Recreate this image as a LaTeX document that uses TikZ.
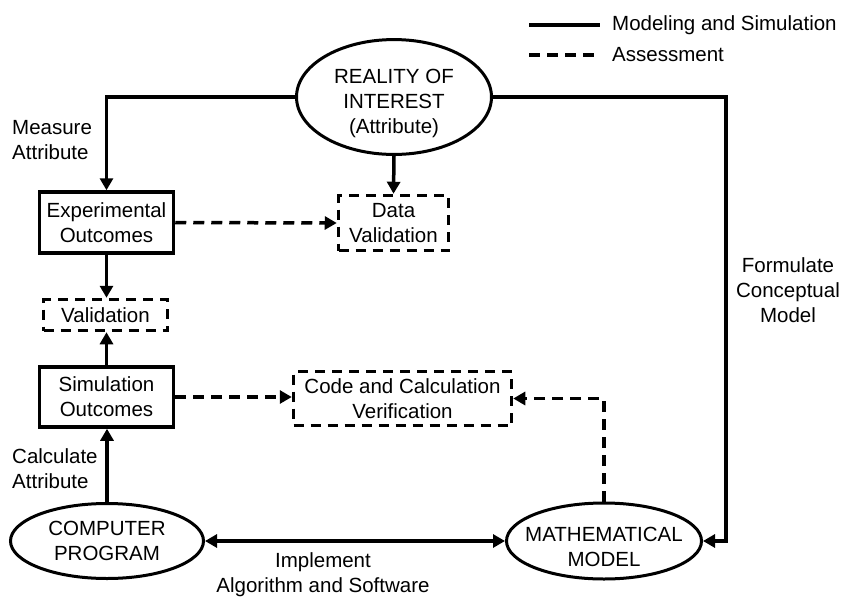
\documentclass[tikz,border=0pt]{standalone}
\usepackage{fontspec}
\setmainfont{Liberation Sans}
\usepackage{tikz}
\usetikzlibrary{shapes, arrows.meta}
\tikzstyle{oval} = [ellipse, draw=black, line width=3pt, inner xsep=-12pt, inner ysep=0pt, text centered, align=center]
\tikzstyle{outcome} = [rectangle, draw=black, line width=3.5pt, inner sep=0pt, text centered, align=center]
\tikzstyle{check} = [rectangle, draw=black, line width=3.5pt, dash pattern=on 10pt off 7pt, inner sep=0pt, text centered, align=center]
\tikzstyle{edge} = [line width=3.5pt, >={Triangle[length=12pt, width=13pt]}]
\tikzstyle{assess} = [edge, dash pattern=on 11pt off 7pt]
\tikzstyle{note} = [inner sep=0pt]

\begin{document}
\begin{tikzpicture}[x=1pt, y=-1pt, font=\fontsize{20.5}{25}\selectfont]
\useasboundingbox (0,0) rectangle (847,598);

% legend
\coordinate (solidA) at (529,25);
\coordinate (solidB) at (600,25);
\coordinate (dashA) at (529,55);
\coordinate (dashB) at (600,55);
\node (lsolid) [note, anchor=west] at (612,25) {Modeling and Simulation};
\node (ldash) [note, anchor=west] at (612,55) {Assessment};
\draw [edge] (solidA) -- (solidB);
\draw [assess] (dashA) -- (dashB);

% nodes
\node (reality) [oval, minimum width=195pt, minimum height=103pt, text height=77pt] at (394,97) {REALITY OF\\INTEREST\\(Attribute)};
\node (expt) [outcome, minimum width=134pt, minimum height=61pt] at (106.5,222.5) {Experimental\\Outcomes};
\node (dataval) [check, minimum width=110pt, minimum height=55pt] at (393.5,223) {Data\\Validation};
\node (valid) [check, minimum width=124pt, minimum height=31pt] at (105.5,315) {Validation};
\node (simout) [outcome, minimum width=134pt, minimum height=60pt] at (106.5,397) {Simulation\\Outcomes};
\node (codever) [check, minimum width=218pt, minimum height=54pt] at (402.5,398.5) {Code and Calculation\\Verification};
\node (computer) [oval, minimum width=193pt, minimum height=75pt] at (107,541) {COMPUTER\\PROGRAM};
\node (math) [oval, minimum width=195pt, minimum height=76pt, text height=52pt] at (604,541) {MATHEMATICAL\\MODEL};
\coordinate (bend) at (726,97);

% labels
\node (measure) [note, anchor=west, align=left] at (12,140) {Measure\\Attribute};
\node (calc) [note, anchor=west, align=left] at (12,469) {Calculate\\Attribute};
\node (formulate) [note, align=center] at (788,290) {Formulate\\Conceptual\\Model};
\node (implement) [note, align=center] at (323,575) {Implement\\Algorithm and Software};

% modeling and simulation
\draw [edge, ->] (reality.west) -| (expt.north);
\draw [edge, ->] (reality.east) -- (bend) |- (math.east);
\draw [edge, ->] (reality.south) -- (dataval.north);
\draw [edge, ->] (expt.south) -- (expt.south |- valid.north);
\draw [edge, ->] (simout.north) -- (simout.north |- valid.south);
\draw [edge, ->] (computer.north) -- (computer.north |- simout.south);
\draw [edge, <->] (computer.east) -- (math.west);

% assessment
\draw [assess, ->] (expt.east) -- (dataval.west);
\draw [assess, ->] (simout.east) -- (simout.east -| codever.west);
\draw [assess, ->] (math.north) |- (codever.east);

\end{tikzpicture}
\end{document}
